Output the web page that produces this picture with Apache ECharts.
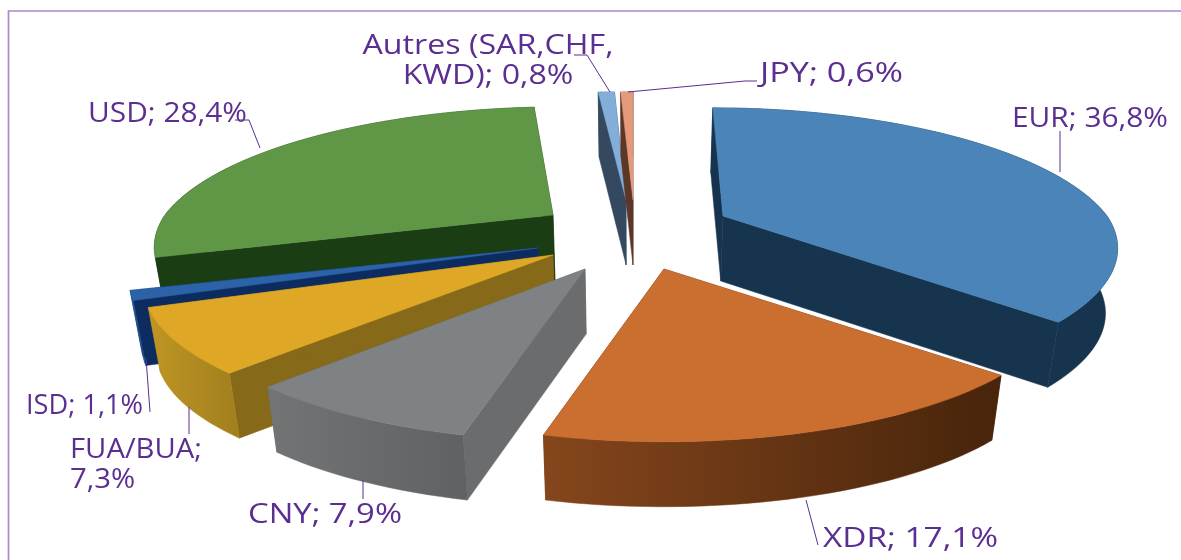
<!DOCTYPE html>
<html>
<head>
<meta charset="utf-8">
<style>html,body{margin:0;padding:0;background:#fff}#c{width:1181px;height:560px}</style>
<script src="https://cdn.jsdelivr.net/npm/echarts@6/dist/echarts.min.js"></script>
</head>
<body>
<div id="c"></div>
<script>
// Data
const categories = ['EUR', 'XDR', 'CNY', 'FUA/BUA', 'ISD', 'USD', 'Autres (SAR,CHF,KWD)', 'JPY'];
const values = [36.8, 17.1, 7.9, 7.3, 1.1, 28.4, 0.8, 0.6];

// Styles and layout
const topColors = ['#4a84b8', '#cb6f31', '#7f8284', '#dfa726', '#2c62a8', '#5f9747', '#82aed8', '#e59a7c'];
const wallColors = ['#17344f', '#5a2f10', '#6a6c6e', '#87691a', '#0c2c60', '#1b3d14', '#34495f', '#5c3728'];
const arcLeft = ['#17344f', '#85461c', '#727476', '#bf9624', '#2258a0', '#1b3d14', '#34495f', '#5c3728'];
const arcRight = ['#17344f', '#47240b', '#5f6163', '#a17f1e', '#1c4a8c', '#1b3d14', '#34495f', '#5c3728'];
const drawOrder = [6, 7, 5, 0, 4, 3, 2, 1];
const CX = 632, CY = 200, RX = 398, RY = 133, PERSP = 0.23, DEPTH = 65, TAPER = 0.975;
// explosion offset of each slice from the pie centre, and horizontal fit of its radius
const explodeX = [91, 32, -47, -79, -94, -79, -6, 1];
const explodeY = [16, 69, 69, 55, 48, 15, 0, 0];
const radiusFit = [0.965, 0.97, 0.98, 1, 1, 0.975, 1, 1];

const INK = '#5b2e91', FONT = '27px "Open Sans"';
const labelAnchor = [[1012, 119], [823, 539], [248, 515], [70, 465], [26, 406], [88, 114], [488, 61], [760, 74]];
const labelAlign = ['left', 'left', 'left', 'left', 'left', 'left', 'center', 'left'];
const labelWidth = [156, 175, 154, 132, 117, 159, 251, 143];
const leaders = [
  [[1060, 131], [1060, 172]],
  [[806, 500], [818, 545]],
  [[363, 480], [363, 499]],
  [[189, 407], [189, 434]],
  [[146, 358], [150, 412]],
  [[235, 120], [249, 120], [260, 148]],
  [[574, 55], [587, 55], [610, 92]],
  [[628, 92], [745, 81], [757, 81]]
];

function labelText(i) {
  const pct = values[i].toFixed(1).replace('.', ',') + '%';
  const name = categories[i].replace('CHF,KWD', 'CHF,\nKWD');
  return name + (categories[i] === 'FUA/BUA' ? ';\n' : '; ') + pct;
}
const measure = document.createElement('canvas').getContext('2d');
function textScale(i) {
  measure.font = FONT;
  const w = Math.max.apply(null, labelText(i).split('\n').map(function (s) { return measure.measureText(s).width; }));
  return labelWidth[i] / w;
}

const total = values.reduce(function (a, b) { return a + b; }, 0);
const startAngle = [];
values.reduce(function (acc, v, i) { startAngle[i] = acc / total * 2 * Math.PI; return acc + v; }, 0);

function renderSlice(params, api) {
  const i = api.value(0);
  const a0 = startAngle[i], a1 = a0 + api.value(1) / total * 2 * Math.PI;
  const ax = CX + explodeX[i], ay = CY + explodeY[i];
  const pt = function (t) {
    const u = Math.sin(t), v = -Math.cos(t), s = 1 / (1 - PERSP * v);
    return [ax + RX * radiusFit[i] * u * s + (ax - CX) * (Math.min(s, 1) - 1) * 0.6, ay + RY * v * s];
  };
  const down = function (p) { return [CX + (p[0] - CX) * TAPER, p[1] + DEPTH]; };
  const arc = [];
  const n = Math.max(2, Math.ceil((a1 - a0) / 0.03));
  for (let k = 0; k <= n; k++) arc.push(pt(a0 + (a1 - a0) * k / n));
  const apex = [ax, ay];
  const z = drawOrder.indexOf(i) * 10;
  const poly = function (points, fill, z2) {
    return { type: 'polygon', z2: z2, shape: { points: points }, style: { fill: fill, stroke: fill, lineWidth: 0.5 }, silent: true };
  };
  const first = arc[0], last = arc[arc.length - 1];
  const arcWall = arc.concat(arc.map(down).reverse());
  return {
    type: 'group',
    children: [
      poly([apex, down(apex), down(first), first], wallColors[i], z),
      poly([apex, down(apex), down(last), last], wallColors[i], z + 1),
      poly(arcWall, new echarts.graphic.LinearGradient(0, 0, 1, 0, [
        { offset: 0, color: arcLeft[i] }, { offset: 1, color: arcRight[i] }
      ]), z + 2),
      poly([apex].concat(arc), topColors[i], z + 3)
    ]
  };
}

function renderLabels(params, api) {
  const i = api.value(0);
  const children = [{
    type: 'polyline', z2: 200, shape: { points: leaders[i] },
    style: { fill: null, stroke: INK, lineWidth: 1 }, silent: true
  }, {
    type: 'text', z2: 201, x: labelAnchor[i][0], y: labelAnchor[i][1], scaleX: textScale(i),
    style: {
      text: labelText(i), font: FONT, fill: INK, lineHeight: 30,
      textAlign: labelAlign[i], textVerticalAlign: 'middle', verticalAlign: 'middle'
    }, silent: true
  }];
  return { type: 'group', children: children };
}

const chart = echarts.init(document.getElementById('c'), null, { renderer: 'canvas' });
chart.setOption({
  animation: false,
  backgroundColor: '#ffffff',
  graphic: [{
    type: 'polyline', z: 0, silent: true,
    shape: { points: [[8.5, 560], [8.5, 11], [1181, 11]] },
    style: { fill: null, stroke: '#a98bc8', lineWidth: 1.7 }
  }],
  series: [
    {
      type: 'custom', coordinateSystem: 'none', renderItem: renderSlice, silent: true, z: 2,
      data: drawOrder.map(function (i) { return { name: categories[i], value: [i, values[i]] }; })
    },
    {
      type: 'custom', coordinateSystem: 'none', renderItem: renderLabels, silent: true, z: 3,
      data: categories.map(function (c, i) { return { name: c, value: [i, values[i]] }; })
    }
  ]
});
</script>
</body>
</html>
